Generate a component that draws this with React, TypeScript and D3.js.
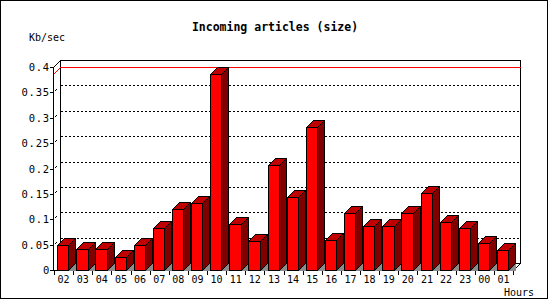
import React from "react";
import * as d3 from "d3";

const hours = ["02","03","04","05","06","07","08","09","10","11","12","13","14","15","16","17","18","19","20","21","22","23","00","01"];
const sizes = [0.050,0.041,0.041,0.025,0.050,0.082,0.120,0.133,0.387,0.090,0.058,0.206,0.143,0.282,0.060,0.113,0.087,0.086,0.113,0.151,0.094,0.082,0.053,0.039];
const yTicks = [0,0.05,0.1,0.15,0.2,0.25,0.3,0.35,0.4];
const yTickLabels = ["0","0.05","0.1","0.15","0.2","0.25","0.3","0.35","0.4"];
const title = "Incoming articles (size)";
const yTitle = "Kb/sec";
const xTitle = "Hours";

const px = (v: number) => Math.round(v) + 0.5;

export default function App() {
  const W = 550, H = 300;
  const xStart = 54, xEnd = 513, yBase = 270, yTopV = 67, D = 7;
  const x = d3.scaleBand<string>().domain(hours).range([xStart, xEnd]);
  const y = d3.scaleLinear().domain([0, 0.4]).range([yBase, yTopV]);
  const bw = x.bandwidth();
  const maxV = d3.max(sizes) as number;
  const B = px(yBase);
  const AX = px(xStart) - 1; // 53.5
  const backL = AX + D;
  const backR = px(xEnd) + D;
  const backTop = px(y(0.4)) - D;
  const backBot = B - D;
  const mono = "'DejaVu Sans Mono', monospace";

  const boundaries = hours.map((h) => x(h) as number).concat([xEnd]);

  return (
    <svg width={W} height={H} style={{ position: "absolute", left: 0, top: 0, background: "#fff" }} shapeRendering="crispEdges">
      <rect x={0} y={0} width={W} height={H} fill="#fff" />
      <rect x={0.5} y={0.5} width={547} height={298} fill="none" stroke="#000" />
      <text x={275} y={31} textAnchor="middle" fontFamily={mono} fontWeight="bold" fontSize={11.5} fill="#000">{title}</text>
      <text x={29} y={41} fontFamily={mono} fontSize={10} fill="#000">{yTitle}</text>
      <text x={534} y={296} textAnchor="end" fontFamily={mono} fontSize={10} fill="#000">{xTitle}</text>

      {/* back frame */}
      <rect x={backL} y={backTop} width={backR - backL} height={backBot - backTop} fill="#fff" stroke="#000" />
      {/* grid lines */}
      {yTicks.filter((t) => t > 0 && t < 0.4).map((t) => (
        <line key={"g" + t} x1={backL} x2={backR} y1={px(y(t)) - D} y2={px(y(t)) - D} stroke="#000" strokeDasharray="2,2" />
      ))}
      {/* max line */}
      <line x1={backL} x2={backR} y1={px(y(maxV)) - D} y2={px(y(maxV)) - D} stroke="#f00" />
      <line x1={AX} y1={px(y(maxV))} x2={backL} y2={px(y(maxV)) - D} stroke="#f00" />

      {/* front axis */}
      <line x1={AX} y1={B} x2={AX} y2={px(y(0.4))} stroke="#000" />
      <line x1={AX} y1={px(y(0.4))} x2={backL} y2={backTop} stroke="#000" />
      <line x1={AX - 4} y1={B} x2={px(xEnd)} y2={B} stroke="#000" />
      <line x1={px(xEnd)} y1={B} x2={backR} y2={backBot} stroke="#000" />

      {/* y ticks */}
      {yTicks.map((t, i) => (
        <g key={"yt" + t}>
          <line x1={AX - 4} x2={AX} y1={px(y(t))} y2={px(y(t))} stroke="#000" />
          {t > 0 && t < 0.4 && (
            <line x1={AX + 1} y1={px(y(t)) - 1} x2={AX + 3} y2={px(y(t)) - 3} stroke="#000" />
          )}
          <text x={50} y={y(t) + 4} textAnchor="end" fontFamily={mono} fontSize={10.5} letterSpacing={0.8} fill="#000">{yTickLabels[i]}</text>
        </g>
      ))}

      {/* bars */}
      {hours.map((h, i) => {
        const L = px((x(h) as number) + 3.2);
        const R = px((x(h) as number) + 3.2 + 11.2);
        const T = px(y(sizes[i]));
        return (
          <g key={"b" + h}>
            <polygon points={`${R},${B} ${R + D},${B - D} ${R + D},${B}`} fill="#8c8c8c" />
            <polygon points={`${R},${T} ${R + D},${T - D} ${R + D},${B - D} ${R},${B}`} fill="#800000" stroke="#000" />
            <polygon points={`${L},${T} ${L + D},${T - D} ${R + D},${T - D} ${R},${T}`} fill="#c00000" stroke="#000" />
            <rect x={L} y={T} width={R - L} height={B - T} fill="#f00" stroke="#000" />
          </g>
        );
      })}

      {/* x ticks and labels */}
      {boundaries.map((b, i) => (
        <line key={"xt" + i} x1={px(b)} x2={px(b)} y1={B} y2={B + 4} stroke="#000" />
      ))}
      {hours.map((h) => (
        <text key={"xl" + h} x={(x(h) as number) + bw / 2} y={283} textAnchor="middle" fontFamily={mono} fontSize={10} fill="#000">{h}</text>
      ))}
    </svg>
  );
}
